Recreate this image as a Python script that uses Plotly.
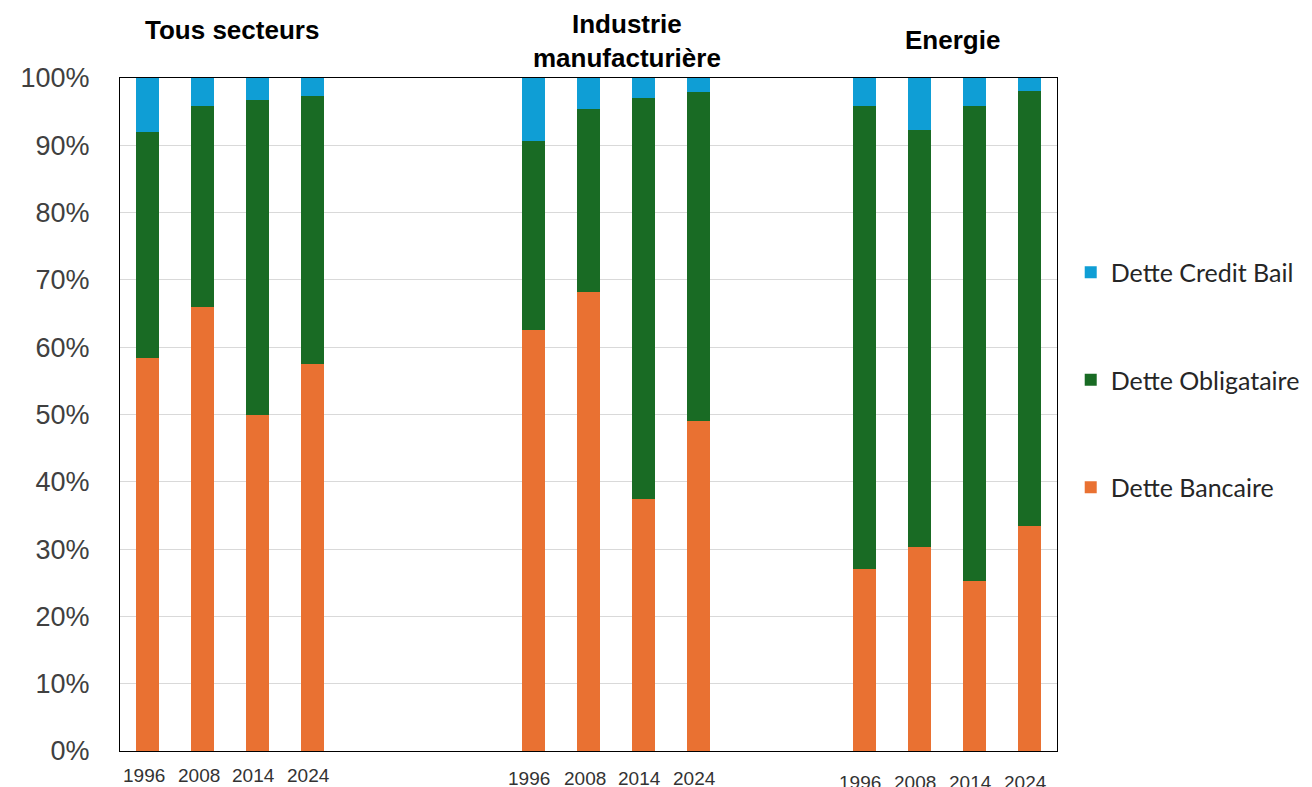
import plotly.graph_objects as go

sectors = ["Tous secteurs", "Industrie<br>manufacturière", "Energie"]
years = ["1996", "2008", "2014", "2024"]
# slot index of the first bar of each sector group
group_start = [0, 7, 13]

# shares in % (per sector, per year)
dette_bancaire = [58.4, 65.9, 49.9, 57.5,
                  62.5, 68.2, 37.5, 49.1,
                  27.0, 30.3, 25.2, 33.4]
dette_obligataire = [33.6, 29.9, 46.9, 39.9,
                     28.1, 27.2, 59.5, 48.8,
                     68.8, 61.9, 70.6, 64.7]
dette_credit_bail = [8.0, 4.2, 3.2, 2.6,
                     9.4, 4.6, 3.0, 2.1,
                     4.2, 7.9, 4.2, 1.9]

x_pos = [g + i for g in group_start for i in range(len(years))]

series = [
    ("Dette Bancaire", dette_bancaire, "#E97132", 3),
    ("Dette Obligataire", dette_obligataire, "#196B24", 2),
    ("Dette Credit Bail", dette_credit_bail, "#0F9ED5", 1),
]

fig = go.Figure()
for name, vals, col, rank in series:
    fig.add_trace(go.Bar(
        x=x_pos, y=[v / 100 for v in vals], name=name,
        marker=dict(color=col, line=dict(width=0)),
        width=0.42, legendgroup=name, legendrank=rank,
        hovertemplate="%{y:.1%}<extra>" + name + "</extra>",
    ))

annotations = []
# group titles
title_shift = [2, 11, 6]
title_y = [1.0713, 1.0557, 1.0565]
for s, g, dx, ty in zip(sectors, group_start, title_shift, title_y):
    annotations.append(dict(
        text=s, x=g + 1.5, xref="x", y=ty, yref="paper",
        xshift=dx, showarrow=False, xanchor="center", yanchor="middle",
        font=dict(family="Liberation Sans, Arial", size=26, color="#000000",
                  weight="bold"),
        align="center",
    ))
# category (year) labels under the bars
label_shift = [-24, -27, -31]
for gi, g in enumerate(group_start):
    for i, yl in enumerate(years):
        annotations.append(dict(
            text=yl, x=g + i, xref="x", y=0, yref="paper",
            xshift=-4, yshift=label_shift[gi], showarrow=False,
            xanchor="center", yanchor="middle",
            font=dict(family="Liberation Sans, Arial", size=19, color="#333333"),
        ))

fig.update_layout(
    barmode="stack",
    width=1312, height=787,
    margin=dict(l=104, r=263, t=70, b=44),
    paper_bgcolor="white", plot_bgcolor="white",
    showlegend=True,
    legend=dict(
        traceorder="grouped",
        tracegroupgap=72,
        xref="container", yref="container",
        x=0.810, y=0.693, xanchor="left", yanchor="top",
        font=dict(family="Lato", size=25, color="#262626"),
        bgcolor="rgba(0,0,0,0)",
    ),
    annotations=annotations,
    bargap=0,
)
fig.update_xaxes(
    range=[-0.5, 16.5], showticklabels=False, showgrid=False,
    zeroline=False, showline=True, linecolor="#000000", linewidth=1.3,
    mirror=True, ticks="",
)
fig.update_yaxes(
    range=[0, 1], dtick=0.1, tickformat=".0%",
    showgrid=True, gridcolor="#D9D9D9", gridwidth=1,
    zeroline=False, showline=True, linecolor="#000000", linewidth=1.3,
    mirror=True, ticks="", ticklabelstandoff=24,
    tickfont=dict(family="Liberation Sans, Arial", size=27, color="#404040"),
)

fig.write_html("out.html")
